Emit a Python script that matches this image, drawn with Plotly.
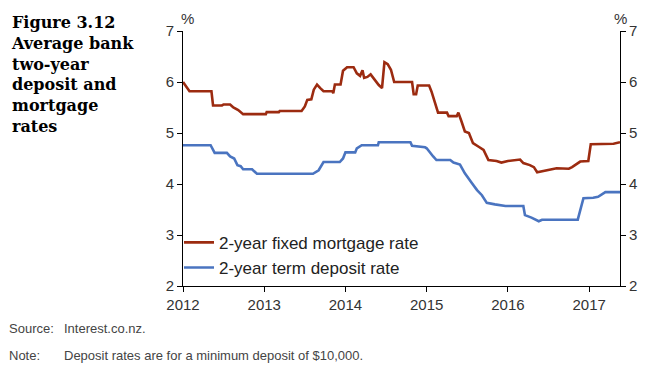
import plotly.graph_objects as go

# ---- data (decimal years, percent) ----
mortgage_t = [2012.00, 2012.04, 2012.08, 2012.35, 2012.37, 2012.48, 2012.50, 2012.58, 2012.62, 2012.68,
              2012.74, 2013.02, 2013.03, 2013.18, 2013.19, 2013.46, 2013.50, 2013.53, 2013.58, 2013.61,
              2013.65, 2013.69, 2013.73, 2013.84, 2013.85, 2013.87, 2013.94, 2013.97, 2014.02, 2014.10,
              2014.14, 2014.18, 2014.21, 2014.23, 2014.27, 2014.31, 2014.36, 2014.41, 2014.45, 2014.48,
              2014.52, 2014.56, 2014.60, 2014.82, 2014.84, 2014.87, 2014.89, 2015.03, 2015.06, 2015.10,
              2015.14, 2015.25, 2015.27, 2015.37, 2015.39, 2015.43, 2015.47, 2015.52, 2015.57, 2015.64,
              2015.70, 2015.76, 2015.86, 2015.92, 2016.00, 2016.15, 2016.19, 2016.27, 2016.32, 2016.36,
              2016.48, 2016.60, 2016.75, 2016.79, 2016.89, 2016.99, 2017.02, 2017.30, 2017.38]
mortgage_rate = [6.00, 5.90, 5.82, 5.82, 5.54, 5.54, 5.56, 5.56, 5.50, 5.45,
                 5.37, 5.37, 5.41, 5.41, 5.43, 5.43, 5.52, 5.65, 5.66, 5.85,
                 5.95, 5.88, 5.82, 5.82, 5.78, 5.95, 5.95, 6.22, 6.29, 6.29,
                 6.17, 6.12, 6.23, 6.08, 6.10, 6.15, 6.04, 5.94, 5.88, 6.39,
                 6.35, 6.24, 6.00, 6.00, 5.76, 5.76, 5.93, 5.93, 5.81, 5.61,
                 5.40, 5.40, 5.33, 5.33, 5.40, 5.22, 5.03, 5.00, 4.80, 4.73,
                 4.67, 4.47, 4.45, 4.42, 4.45, 4.48, 4.41, 4.37, 4.33, 4.23,
                 4.27, 4.31, 4.30, 4.33, 4.44, 4.45, 4.78, 4.79, 4.82]

deposit_t = [2012.00, 2012.34, 2012.39, 2012.54, 2012.58, 2012.63, 2012.67, 2012.71, 2012.74, 2012.85,
             2012.91, 2013.60, 2013.67, 2013.73, 2013.93, 2013.97, 2014.00, 2014.12, 2014.14, 2014.20,
             2014.40, 2014.41, 2014.80, 2014.82, 2014.98, 2015.00, 2015.08, 2015.12, 2015.29, 2015.33,
             2015.41, 2015.47, 2015.56, 2015.62, 2015.68, 2015.74, 2015.84, 2015.97, 2016.19, 2016.21,
             2016.29, 2016.38, 2016.42, 2016.86, 2016.93, 2017.05, 2017.11, 2017.20, 2017.38]
deposit_rate = [4.76, 4.76, 4.61, 4.61, 4.54, 4.50, 4.37, 4.35, 4.29, 4.29,
                4.20, 4.20, 4.27, 4.43, 4.43, 4.50, 4.62, 4.62, 4.70, 4.76,
                4.76, 4.82, 4.82, 4.75, 4.72, 4.70, 4.54, 4.47, 4.47, 4.42,
                4.38, 4.21, 4.01, 3.88, 3.78, 3.63, 3.60, 3.57, 3.57, 3.39,
                3.34, 3.27, 3.30, 3.30, 3.72, 3.73, 3.75, 3.84, 3.84]

year_ticks = [2012, 2013, 2014, 2015, 2016, 2017]
y_ticks = [2, 3, 4, 5, 6, 7]

title_text = "Figure 3.12<br>Average bank<br>two-year<br>deposit and<br>mortgage<br>rates"
source_text = "Source:"
source_val = "Interest.co.nz."
note_text = "Note:"
note_val = "Deposit rates are for a minimum deposit of $10,000."

RED = "#9C2B10"
BLUE = "#4A74C0"
TXT = "#333333"

fig = go.Figure()
fig.add_trace(go.Scatter(x=mortgage_t, y=mortgage_rate, mode="lines",
                         line=dict(color=RED, width=2.6), name="2-year fixed mortgage rate"))
fig.add_trace(go.Scatter(x=deposit_t, y=deposit_rate, mode="lines",
                         line=dict(color=BLUE, width=2.6), name="2-year term deposit rate"))
# invisible trace to activate the right-hand axis
fig.add_trace(go.Scatter(x=deposit_t, y=deposit_rate, mode="lines", yaxis="y2",
                         line=dict(color="rgba(0,0,0,0)", width=0), showlegend=False,
                         hoverinfo="skip"))

axis_font = dict(family="Liberation Sans, Arial", size=15, color=TXT)

PW, PH = 437, 255  # plot area size in px

fig.update_layout(
    width=644, height=366,
    margin=dict(l=175, r=32, t=23, b=88),
    paper_bgcolor="white", plot_bgcolor="white",
    showlegend=True,
    legend=dict(x=-4 / PW, y=0.240, xanchor="left", yanchor="top",
                font=dict(family="Liberation Sans, Arial", size=17, color="#222222"),
                bgcolor="rgba(0,0,0,0)", tracegroupgap=0, itemwidth=30),
    xaxis=dict(range=[2012, 2017.38], tickvals=year_ticks, ticktext=[str(y) for y in year_ticks],
               showgrid=False, zeroline=False, showline=True, linecolor="black", linewidth=1,
               ticks="outside", ticklen=5, tickcolor="black", tickfont=axis_font),
    yaxis=dict(range=[2, 7], tickvals=y_ticks, showgrid=False, zeroline=False,
               showline=True, linecolor="black", linewidth=1,
               ticks="outside", ticklen=5, tickcolor="black", tickfont=axis_font),
    yaxis2=dict(range=[2, 7], tickvals=y_ticks, overlaying="y", side="right",
                showgrid=False, zeroline=False, showline=True, linecolor="black", linewidth=1,
                ticks="outside", ticklen=5, tickcolor="black", tickfont=axis_font),
)

small = dict(family="Liberation Sans, Arial", size=13, color="#444444")
ann = [
    dict(text="%", xref="paper", yref="paper", x=0.0, y=1.0, xanchor="center", yanchor="bottom",
         xshift=4, yshift=2, showarrow=False, font=axis_font),
    dict(text="%", xref="paper", yref="paper", x=1.0, y=1.0, xanchor="center", yanchor="bottom",
         yshift=2, showarrow=False, font=axis_font),
    dict(text="<b>" + title_text + "</b>", xref="paper", yref="paper",
         x=-174 / PW, y=1 + 20 / PH, xanchor="left", yanchor="top", align="left",
         showarrow=False, font=dict(family="DejaVu Serif", size=16, color="black")),
    dict(text=source_text, xref="paper", yref="paper", x=-176 / PW, y=-42 / PH,
         xanchor="left", yanchor="middle", showarrow=False, font=small),
    dict(text=source_val, xref="paper", yref="paper", x=-121 / PW, y=-42 / PH,
         xanchor="left", yanchor="middle", showarrow=False, font=small),
    dict(text=note_text, xref="paper", yref="paper", x=-176 / PW, y=-69 / PH,
         xanchor="left", yanchor="middle", showarrow=False, font=small),
    dict(text=note_val, xref="paper", yref="paper", x=-121 / PW, y=-69 / PH,
         xanchor="left", yanchor="middle", showarrow=False, font=small),
]
fig.update_layout(annotations=ann)

fig.write_html("out.html")
